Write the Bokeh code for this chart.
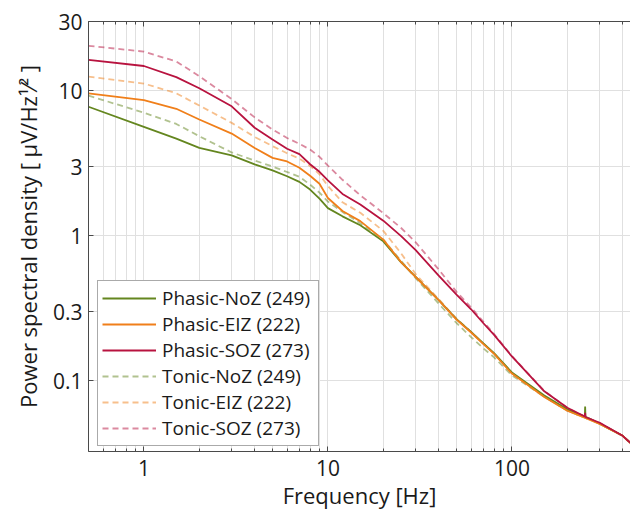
from bokeh.plotting import figure
from bokeh.models import LogAxis, FixedTicker, Range1d, CustomJSTickFormatter
from bokeh.embed import file_html
from bokeh.resources import INLINE

# ---------------- data ----------------
freqs = [0.5, 1, 1.5, 2, 3, 4, 5, 6, 7, 8, 9, 10, 12, 15, 20, 25, 30, 40, 50,
         60, 70, 80, 100, 150, 200, 249, 250, 251, 300, 400, 440]

phasic_noz = [7.75, 5.63, 4.67, 4.03, 3.58, 3.10, 2.82, 2.57, 2.35, 2.08, 1.80,
              1.55, 1.36, 1.18, 0.914, 0.655, 0.52, 0.36, 0.266, 0.217, 0.181,
              0.155, 0.114, 0.079, 0.0635, 0.0566, 0.0665, 0.0564, 0.0506,
              0.0417, 0.0373]
phasic_eiz = [9.58, 8.6, 7.5, 6.33, 5.06, 4.03, 3.44, 3.25, 2.94, 2.59, 2.28,
              1.82, 1.48, 1.26, 0.94, 0.657, 0.519, 0.359, 0.264, 0.215, 0.179,
              0.153, 0.112, 0.0773, 0.0621, 0.0556, 0.0555, 0.0554, 0.0504,
              0.0417, 0.0373]
phasic_soz = [16.3, 14.8, 12.4, 10.4, 7.8, 5.55, 4.6, 3.98, 3.65, 3.11, 2.76,
              2.41, 1.94, 1.64, 1.27, 0.994, 0.795, 0.53, 0.393, 0.311, 0.249,
              0.207, 0.147, 0.0845, 0.0651, 0.0566, 0.0600, 0.0562, 0.0513,
              0.0417, 0.0373]
tonic_noz = [9.25, 7.05, 5.9, 4.85, 3.75, 3.3, 3.0, 2.75, 2.55, 2.25, 1.98,
             1.72, 1.46, 1.22, 0.94, 0.67, 0.51, 0.34, 0.25, 0.20, 0.167,
             0.145, 0.109, 0.0775, 0.0622, 0.0556, 0.0555, 0.0554, 0.0504,
             0.0417, 0.0373]
tonic_eiz = [12.5, 11.2, 9.6, 7.9, 6.0, 4.8, 4.15, 3.7, 3.4, 3.03, 2.65,
             2.2, 1.7, 1.44, 1.08, 0.755, 0.543, 0.365, 0.268, 0.217, 0.18,
             0.154, 0.113, 0.0775, 0.0622, 0.0556, 0.0555, 0.0554, 0.0504,
             0.0417, 0.0373]
tonic_soz = [20.4, 18.6, 15.9, 12.6, 8.75, 6.55, 5.4, 4.72, 4.3, 3.93, 3.5,
             3.04, 2.43, 1.90, 1.43, 1.13, 0.90, 0.585, 0.41, 0.32, 0.255,
             0.21, 0.148, 0.085, 0.065, 0.0566, 0.0565, 0.0564, 0.051,
             0.0415, 0.037]

series_names = ["Phasic-NoZ (249)", "Phasic-EIZ (222)", "Phasic-SOZ (273)",
                "Tonic-NoZ (249)", "Tonic-EIZ (222)", "Tonic-SOZ (273)"]

x_ticks = [1, 10, 100]
x_tick_labels = ["1", "10", "100"]
y_ticks = [0.1, 0.3, 1, 3, 10, 30]
y_tick_labels = ["0.1", "0.3", "1", "3", "10", "30"]

x_label = "Frequency [Hz]"
y_label = "Power spectral density [ \u03bcV/Hz\u00b9\u2044\u00b2 ]"

# ---------------- styling ----------------
FONT = "Open Sans"
GREEN = "#64861f"
ORANGE = "#f07f1a"
CRIMSON = "#b8133f"
GRID = "#e0e0e0"
AXIS = "#4a4a4a"
TEXT = "#1a1a1a"

X0, X1 = 0.5, 441
Y0, Y1 = 0.0325, 30

x_minor = [m * d for d in (0.1, 1, 10, 100) for m in range(2, 10)
           if X0 <= m * d <= X1 and m * d not in x_ticks]

LABEL_JS = """
let best = 0, bd = Infinity;
for (let i = 0; i < tv.length; i++) {
  const d = Math.abs(Math.log(tv[i]) - Math.log(tick));
  if (d < bd) { bd = d; best = i; }
}
return bd < 1e-6 ? tl[best] : "";
"""

p = figure(width=630, height=512, x_axis_type="log", y_axis_type="log",
           x_range=Range1d(X0, X1), y_range=Range1d(Y0, Y1),
           output_backend="svg", toolbar_location=None,
           min_border_left=88, min_border_right=0,
           min_border_top=21, min_border_bottom=60)
p.outline_line_color = None
p.background_fill_color = "white"

xt = FixedTicker(ticks=x_ticks, minor_ticks=x_minor)
yt = FixedTicker(ticks=y_ticks, minor_ticks=[])
p.xaxis.ticker = xt
p.yaxis.ticker = yt
p.xgrid.ticker = xt
p.ygrid.ticker = yt
p.xaxis.formatter = CustomJSTickFormatter(
    args=dict(tv=x_ticks, tl=x_tick_labels), code=LABEL_JS)
p.yaxis.formatter = CustomJSTickFormatter(
    args=dict(tv=y_ticks, tl=y_tick_labels), code=LABEL_JS)

for ax in (p.xaxis[0], p.yaxis[0]):
    ax.axis_line_color = AXIS
    ax.major_tick_line_color = AXIS
    ax.minor_tick_line_color = AXIS
    ax.major_tick_in = 5
    ax.major_tick_out = 0
    ax.minor_tick_in = 3
    ax.minor_tick_out = 0
    ax.major_label_text_font = FONT
    ax.major_label_text_font_size = "21px"
    ax.major_label_text_color = TEXT
    ax.axis_label_text_font = FONT
    ax.axis_label_text_font_style = "normal"
    ax.axis_label_text_color = TEXT
p.xaxis.major_label_standoff = 8
p.yaxis.major_label_standoff = 6

p.xaxis.axis_label = x_label
p.xaxis.axis_label_text_font_size = "22px"
p.xaxis.axis_label_standoff = 1
p.yaxis.axis_label = y_label
p.yaxis.axis_label_text_font_size = "22px"
p.yaxis.axis_label_standoff = 7

top = LogAxis(ticker=xt, axis_line_color=AXIS, major_tick_line_color=AXIS,
              minor_tick_line_color=AXIS, major_tick_in=5, major_tick_out=0,
              minor_tick_in=3, minor_tick_out=0, major_label_standoff=0,
              major_label_text_color=None,
              formatter=CustomJSTickFormatter(code="return '';"))
p.add_layout(top, "above")

p.xgrid.grid_line_color = GRID
p.xgrid.minor_grid_line_color = GRID
p.ygrid.grid_line_color = GRID

solid = [(phasic_noz, GREEN), (phasic_eiz, ORANGE), (phasic_soz, CRIMSON)]
dashed = [(tonic_noz, GREEN), (tonic_eiz, ORANGE), (tonic_soz, CRIMSON)]
for (vals, col), name in zip(dashed, series_names[3:]):
    p.line(freqs, vals, line_color=col, line_alpha=0.5, line_width=1.8,
           line_dash="6 4", legend_label=name)
for (vals, col), name in zip(solid, series_names[:3]):
    p.line(freqs, vals, line_color=col, line_width=1.8, legend_label=name)

# reorder legend items: phasic first, then tonic
leg = p.legend[0]
items = list(leg.items)
leg.items = items[3:] + items[:3]
leg.location = (9, 5)
leg.label_text_font = FONT
leg.label_text_font_size = "19px"
leg.label_text_color = TEXT
leg.glyph_width = 54
leg.glyph_height = 20
leg.label_height = 20
leg.label_width = 152
leg.spacing = -7
leg.padding = 4
leg.margin = 0
leg.label_standoff = 6
leg.border_line_color = "#555555"
leg.border_line_width = 1
leg.background_fill_alpha = 1

open("out.html", "w").write(file_html(p, INLINE))
